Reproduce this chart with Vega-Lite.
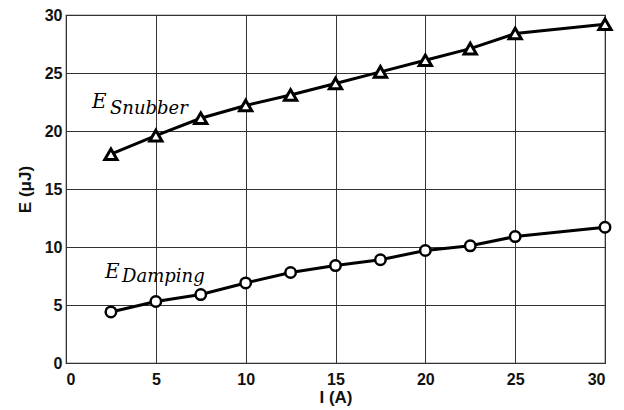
{
  "$schema": "https://vega.github.io/schema/vega-lite/v6.json",
  "width": 539,
  "height": 348,
  "autosize": "none",
  "padding": {"left": 66, "top": 15, "right": 19, "bottom": 47},
  "background": "white",
  "config": {
    "view": {"stroke": "#222", "strokeWidth": 1.2},
    "axis": {
      "grid": true,
      "gridColor": "#333",
      "gridWidth": 1,
      "gridOpacity": 1,
      "domain": false,
      "ticks": false,
      "labelFont": "Liberation Sans",
      "labelFontWeight": "bold",
      "labelFontSize": 16,
      "labelColor": "#111",
      "titleFont": "Liberation Sans",
      "titleFontWeight": "bold",
      "titleFontSize": 17,
      "titleColor": "#111"
    }
  },
  "data": {
    "values": [
      {"series": "Snubber", "I": 2.5, "E": 18.0},
      {"series": "Snubber", "I": 5, "E": 19.6},
      {"series": "Snubber", "I": 7.5, "E": 21.1},
      {"series": "Snubber", "I": 10, "E": 22.2},
      {"series": "Snubber", "I": 12.5, "E": 23.1},
      {"series": "Snubber", "I": 15, "E": 24.1},
      {"series": "Snubber", "I": 17.5, "E": 25.1},
      {"series": "Snubber", "I": 20, "E": 26.1},
      {"series": "Snubber", "I": 22.5, "E": 27.1},
      {"series": "Snubber", "I": 25, "E": 28.4},
      {"series": "Snubber", "I": 30, "E": 29.2},
      {"series": "Damping", "I": 2.5, "E": 4.4},
      {"series": "Damping", "I": 5, "E": 5.3},
      {"series": "Damping", "I": 7.5, "E": 5.9},
      {"series": "Damping", "I": 10, "E": 6.9},
      {"series": "Damping", "I": 12.5, "E": 7.8},
      {"series": "Damping", "I": 15, "E": 8.4},
      {"series": "Damping", "I": 17.5, "E": 8.9},
      {"series": "Damping", "I": 20, "E": 9.7},
      {"series": "Damping", "I": 22.5, "E": 10.1},
      {"series": "Damping", "I": 25, "E": 10.9},
      {"series": "Damping", "I": 30, "E": 11.7}
    ]
  },
  "layer": [
    {
      "mark": {"type": "line", "color": "black", "strokeWidth": 3},
      "encoding": {
        "x": {"field": "I", "type": "quantitative", "scale": {"domain": [0, 30], "nice": false}, "axis": {"values": [0,5,10,15,20,25,30], "title": "I (A)", "labelPadding": 8, "titlePadding": 2}},
        "y": {"field": "E", "type": "quantitative", "scale": {"domain": [0, 30], "nice": false}, "axis": {"values": [0,5,10,15,20,25,30], "title": "E (μJ)", "labelPadding": 4, "titlePadding": 10}},
        "detail": {"field": "series"}
      }
    },
    {
      "transform": [{"filter": "datum.series === 'Snubber'"}],
      "mark": {"type": "point", "shape": "triangle-up", "size": 150, "filled": true, "fill": "white", "stroke": "black", "strokeWidth": 3, "opacity": 1},
      "encoding": {"x": {"field": "I", "type": "quantitative"}, "y": {"field": "E", "type": "quantitative"}}
    },
    {
      "transform": [{"filter": "datum.series === 'Damping'"}],
      "mark": {"type": "point", "shape": "circle", "size": 110, "filled": true, "fill": "white", "stroke": "black", "strokeWidth": 2.5, "opacity": 1},
      "encoding": {"x": {"field": "I", "type": "quantitative"}, "y": {"field": "E", "type": "quantitative"}}
    },
    {
      "data": {"values": [{"k": 1}]},
      "mark": {"type": "text", "text": "E", "font": "DejaVu Serif", "fontStyle": "italic", "fontSize": 20, "align": "left", "baseline": "alphabetic", "fill": "black"},
      "encoding": {"x": {"datum": 1.45, "type": "quantitative"}, "y": {"datum": 22.0, "type": "quantitative"}}
    },
    {
      "data": {"values": [{"k": 1}]},
      "mark": {"type": "text", "text": "Snubber", "font": "DejaVu Serif", "fontStyle": "italic", "fontSize": 18, "align": "left", "baseline": "alphabetic", "fill": "black"},
      "encoding": {"x": {"datum": 2.45, "type": "quantitative"}, "y": {"datum": 21.5, "type": "quantitative"}}
    },
    {
      "data": {"values": [{"k": 1}]},
      "mark": {"type": "text", "text": "E", "font": "DejaVu Serif", "fontStyle": "italic", "fontSize": 20, "align": "left", "baseline": "alphabetic", "fill": "black"},
      "encoding": {"x": {"datum": 2.17, "type": "quantitative"}, "y": {"datum": 7.33, "type": "quantitative"}}
    },
    {
      "data": {"values": [{"k": 1}]},
      "mark": {"type": "text", "text": "Damping", "font": "DejaVu Serif", "fontStyle": "italic", "fontSize": 18, "align": "left", "baseline": "alphabetic", "fill": "black"},
      "encoding": {"x": {"datum": 3.12, "type": "quantitative"}, "y": {"datum": 6.98, "type": "quantitative"}}
    }
  ]
}
